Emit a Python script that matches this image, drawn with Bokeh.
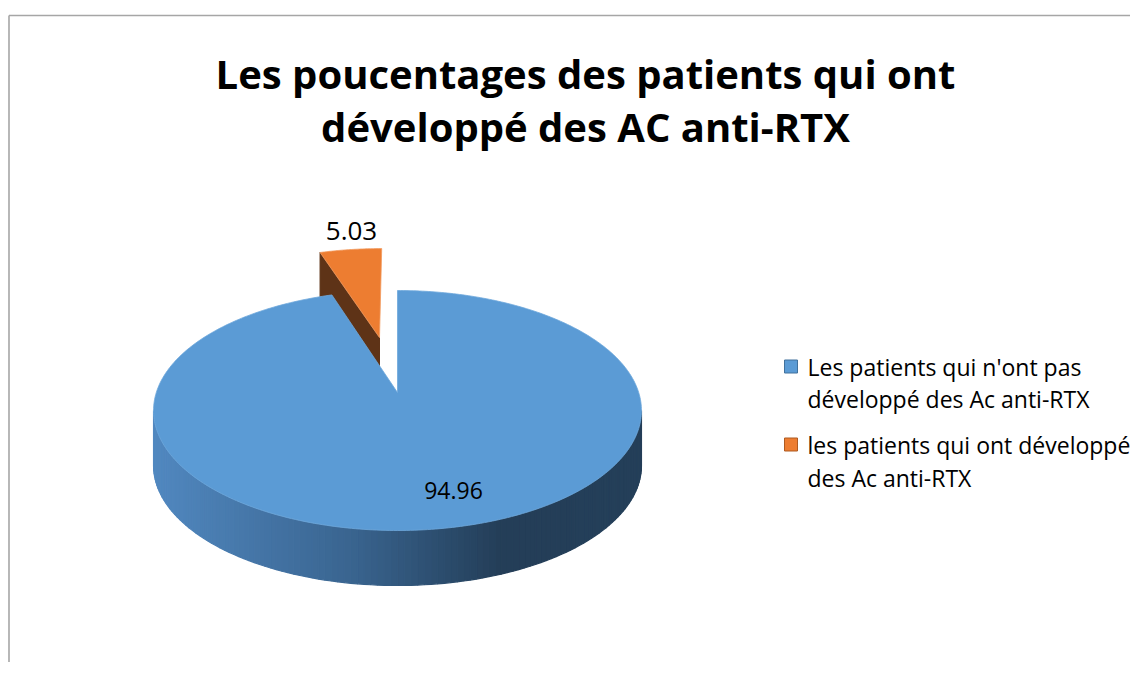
import numpy as np
from bokeh.plotting import figure
from bokeh.models import Range1d
from bokeh.core.properties import value
from bokeh.embed import file_html
from bokeh.resources import INLINE

# ---------------- data ----------------
categories = ["Les patients qui n'ont pas développé des Ac anti-RTX",
              "les patients qui ont développé des Ac anti-RTX"]
legend_lines = [["Les patients qui n'ont pas", "développé des Ac anti-RTX"],
                ["les patients qui ont développé", "des Ac anti-RTX"]]
values = [94.96, 5.03]
value_labels = ["94.96", "5.03"]
title_lines = ["Les poucentages des patients qui ont", "développé des AC anti-RTX"]

top_colors = ["#5B9BD5", "#ED7D31"]
face_colors = ["#2E5478", "#5E3317"]
legend_edge = ["#41719C", "#AE5A21"]

# ---------------- layout (page pixels) ----------------
W, H = 1130, 662
CX, CY = 397.0, 392.0          # projected pie centre
A, B, R_PERSP = 241.2, 117.3, 0.15
DEPTH = 55.0
EXPLODE = [0.0, 0.51]

p = figure(width=W, height=H, output_backend="svg", toolbar_location=None,
           x_range=Range1d(0, W), y_range=Range1d(H, 0),
           x_axis_type=None, y_axis_type=None, min_border=0)
p.grid.visible = False
p.outline_line_color = None
p.background_fill_color = "white"
p.border_fill_color = "white"

# chart border (top & left visible)
p.segment(x0=[8.5, 8.5], y0=[15, 15], x1=[W + 20, 8.5], y1=[15, H + 20],
          line_color="#A6A6A6", line_width=1.6)


def proj(u, v):
    u = np.asarray(u, float)
    v = np.asarray(v, float)
    d = 1 + R_PERSP * v
    return CX + A * u / d, CY - B * v / d


total = float(sum(values))
fracs = [v / total for v in values]
starts, ends = [], []
a = 90.0
for f in fracs:
    starts.append(a)
    a -= 360.0 * f
    ends.append(a)

# ---- exploded orange slice (drawn first, behind) ----
i = 1
mid = np.radians((starts[i] + ends[i]) / 2)
ou, ov = EXPLODE[i] * np.cos(mid), EXPLODE[i] * np.sin(mid)
tt = np.radians(np.linspace(starts[i], ends[i], 40))
cx_o, cy_o = proj([ou], [ov])
rx_o, ry_o = proj(ou + np.cos(tt), ov + np.sin(tt))
# visible radial side face (left edge of the slice)
ex, ey = rx_o[0], ry_o[0]
p.patch(x=[cx_o[0], ex, ex, cx_o[0]], y=[cy_o[0], ey, ey + DEPTH, cy_o[0] + DEPTH],
        fill_color=face_colors[1], line_color=face_colors[1], line_width=1)
p.patch(x=[cx_o[0]] + list(rx_o), y=[cy_o[0]] + list(ry_o),
        fill_color=top_colors[1], line_color="#F29A5E", line_width=0.8)

# ---- blue slice side with horizontal gradient ----
tsil = np.degrees(np.arcsin(R_PERSP))
ts = np.radians(np.linspace(-tsil, -180 + tsil, 121))
sx, sy = proj(np.cos(ts), np.sin(ts))
stops_x = [150, 350, 500, 650]
stops_c = [(82, 137, 193), (58, 101, 144), (36, 62, 88), (37, 64, 90)]


def grad(x):
    r = np.interp(x, stops_x, [c[0] for c in stops_c])
    g = np.interp(x, stops_x, [c[1] for c in stops_c])
    b = np.interp(x, stops_x, [c[2] for c in stops_c])
    return "#%02x%02x%02x" % (int(r), int(g), int(b))


xs, ys, cols = [], [], []
for k in range(len(ts) - 1):
    x0, x1 = sx[k], sx[k + 1]
    y0, y1 = sy[k], sy[k + 1]
    xs.append([x0, x1, x1, x0])
    ys.append([y0, y1, y1 + DEPTH, y0 + DEPTH])
    cols.append(grad((x0 + x1) / 2))
p.patches(xs=xs, ys=ys, fill_color=cols, line_color=cols, line_width=1.2)

# ---- blue top face ----
i = 0
tt = np.radians(np.linspace(starts[i], ends[i], 400))
bx, by = proj(np.cos(tt), np.sin(tt))
p.patch(x=[CX] + list(bx), y=[CY] + list(by), fill_color=top_colors[0],
        line_color="#6FA8DC", line_width=0.8)

# ---- value labels ----
p.text(x=[453], y=[490], text=value_labels[:1],
       text_font=value("Open Sans"), text_font_size="23px",
       text_align="center", text_baseline="middle", text_color="#000000")
p.text(x=[351], y=[230], text=value_labels[1:],
       text_font=value("Open Sans"), text_font_size="26px",
       text_align="center", text_baseline="middle", text_color="#000000")

# ---- title ----
p.text(x=[585, 585], y=[73, 126], text=title_lines,
       text_font=value("Open Sans"), text_font_style="bold",
       text_font_size="40px", text_align="center",
       text_baseline="alphabetic", text_color="#000000")

# ---- legend ----
leg_y = [(366, 398), (444, 477)]
for k in range(2):
    p.rect(x=[790.5], y=[leg_y[k][0]], width=13, height=13,
           fill_color=top_colors[k], line_color=legend_edge[k], line_width=1)
    p.text(x=[807, 807], y=list(leg_y[k]), text=legend_lines[k],
           text_font=value("Open Sans"), text_font_size="23px",
           text_align="left", text_baseline="middle", text_color="#000000")

open("out.html", "w").write(file_html(p, INLINE))
